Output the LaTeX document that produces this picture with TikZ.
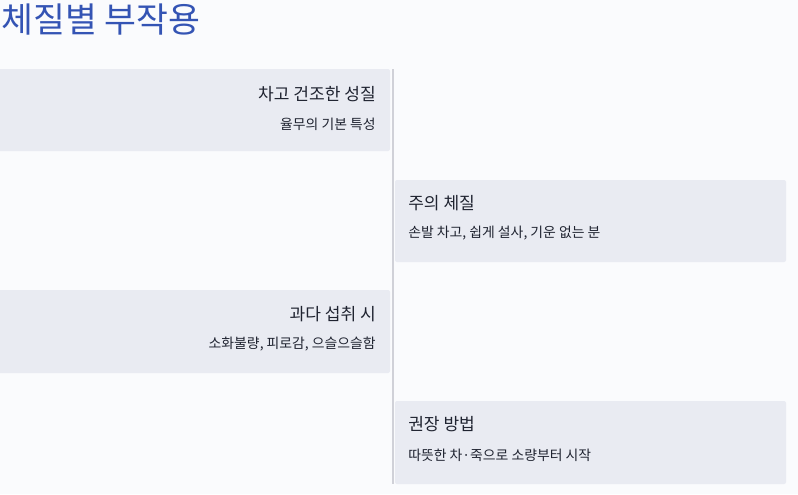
\documentclass[tikz,border=0pt]{standalone}
\usepackage{fontspec}
\setmainfont{Noto Sans CJK KR}
\definecolor{pagebg}{HTML}{FAFBFD}
\definecolor{boxfill}{HTML}{E9EBF2}
\definecolor{titleblue}{HTML}{3454B4}
\definecolor{inktext}{HTML}{1F2330}
\definecolor{axisgray}{HTML}{D0D1D8}
\begin{document}
\begin{tikzpicture}[x=0.75pt, y=-0.75pt,
  panel/.style={fill=boxfill, rounded corners=1.5pt},
  head/.style={inner sep=0pt, text=inktext, font=\fontsize{12.8}{15}\selectfont},
  sub/.style={inner sep=0pt, text=inktext, font=\fontsize{10.4}{12}\selectfont}]
% Page
\useasboundingbox (0,0) rectangle (798,494);
\clip (0,0) rectangle (798,494);
\fill[pagebg] (0,0) rectangle (798,494);
\node[inner sep=0pt, anchor=west, text=titleblue, font=\fontsize{26}{30}\selectfont] (title) at (1,20) {체질별 부작용};

% Timeline axis
\coordinate (top) at (393,69);
\coordinate (bottom) at (393,484);
\draw[axisgray, line width=1.5pt] (top) -- (bottom);

% Left panels
\fill[panel] (-3,69) rectangle (390,151);
\node[head, anchor=east] (cold) at (376,94) {차고 건조한 성질};
\node[sub, anchor=east] (coldsub) at (376,124) {율무의 기본 특성};

\fill[panel] (-3,290) rectangle (390,373);
\node[head, anchor=east] (over) at (376,314) {과다 섭취 시};
\node[sub, anchor=east] (oversub) at (376,344) {소화불량, 피로감, 으슬으슬함};

% Right panels
\fill[panel] (395,180) rectangle (786,262);
\node[head, anchor=west] (care) at (408,203) {주의 체질};
\node[sub, anchor=west] (caresub) at (408,233) {손발 차고, 쉽게 설사, 기운 없는 분};

\fill[panel] (395,401) rectangle (786,484);
\node[head, anchor=west] (tip) at (408,424) {권장 방법};
\node[sub, anchor=west] (tipsub) at (408,455) {따뜻한 차·죽으로 소량부터 시작};
\end{tikzpicture}
\end{document}
